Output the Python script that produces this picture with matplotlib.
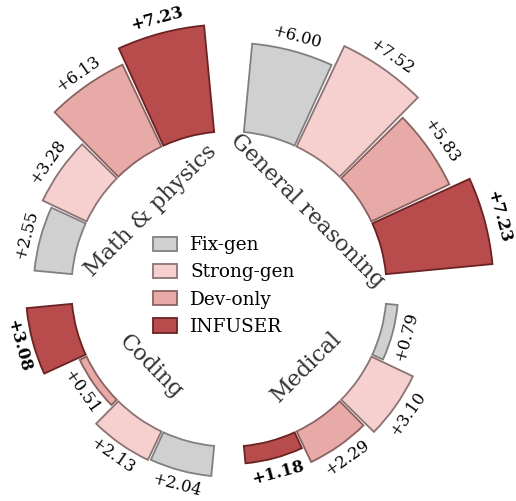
import numpy as np
import matplotlib.pyplot as plt
from matplotlib.patches import Patch

plt.rcParams['font.family'] = ['DejaVu Serif']

groups = ['Math & physics', 'General reasoning', 'Medical', 'Coding']
methods = ['Fix-gen', 'Strong-gen', 'Dev-only', 'INFUSER']
math_vals = [2.55, 3.28, 6.13, 7.23]
general_vals = [6.00, 7.52, 5.83, 7.23]
medical_vals = [0.79, 3.10, 2.29, 1.18]
coding_vals = [2.04, 2.13, 0.51, 3.08]
all_vals = [math_vals, general_vals, medical_vals, coding_vals]

fills = ['#d0d0d0', '#f6d0ce', '#e8aaa6', '#b84c4c']
edges = ['#808080', '#8c7373', '#8a6262', '#6b2222']

# group centres on the diagonals, bars run clockwise inside each group
group_centers = [135, 45, -45, -135]
step = 20
bar_w = 19.2
base = 10.65

fig = plt.figure(figsize=(5.16, 5.01), dpi=100)
rmax = 20.0
R = 296
cx, cy = 229, 501 - 289
ax = fig.add_axes([(cx - R) / 516, (cy - R) / 501, 2 * R / 516, 2 * R / 501],
                  projection='polar')
ax.set_ylim(0, rmax)
ax.axis('off')

for g, vals in enumerate(all_vals):
    c = group_centers[g]
    for i, v in enumerate(vals):
        ang = c + 30 - step * i
        th = np.deg2rad(ang)
        ax.bar(th, v, width=np.deg2rad(bar_w), bottom=base,
               color=fills[i], edgecolor=edges[i], linewidth=1.3)
        # value label outside the bar
        rot = ang - 90 if ang > 0 else ang + 90
        ax.text(th, base + v + 1.0, f'+{v:.2f}', rotation=rot,
                rotation_mode='anchor', ha='center', va='center',
                fontsize=11.8, fontweight='bold' if i == 3 else 'normal')
    rot = c - 90 if c > 0 else c + 90
    ax.text(np.deg2rad(c), 7.45, groups[g], rotation=rot,
            rotation_mode='anchor', ha='center', va='center',
            fontsize=16, color='#333333')

handles = [Patch(facecolor=fills[i], edgecolor=edges[i], linewidth=1.3, label=methods[i])
           for i in range(4)]
fig.legend(handles=handles, loc='center', bbox_to_anchor=(224 / 516, 1 - 286 / 501),
           frameon=False, fontsize=13.3, handlelength=1.3, handleheight=0.8,
           labelspacing=0.5, handletextpad=0.7)

fig.savefig('out.png', dpi=100)
